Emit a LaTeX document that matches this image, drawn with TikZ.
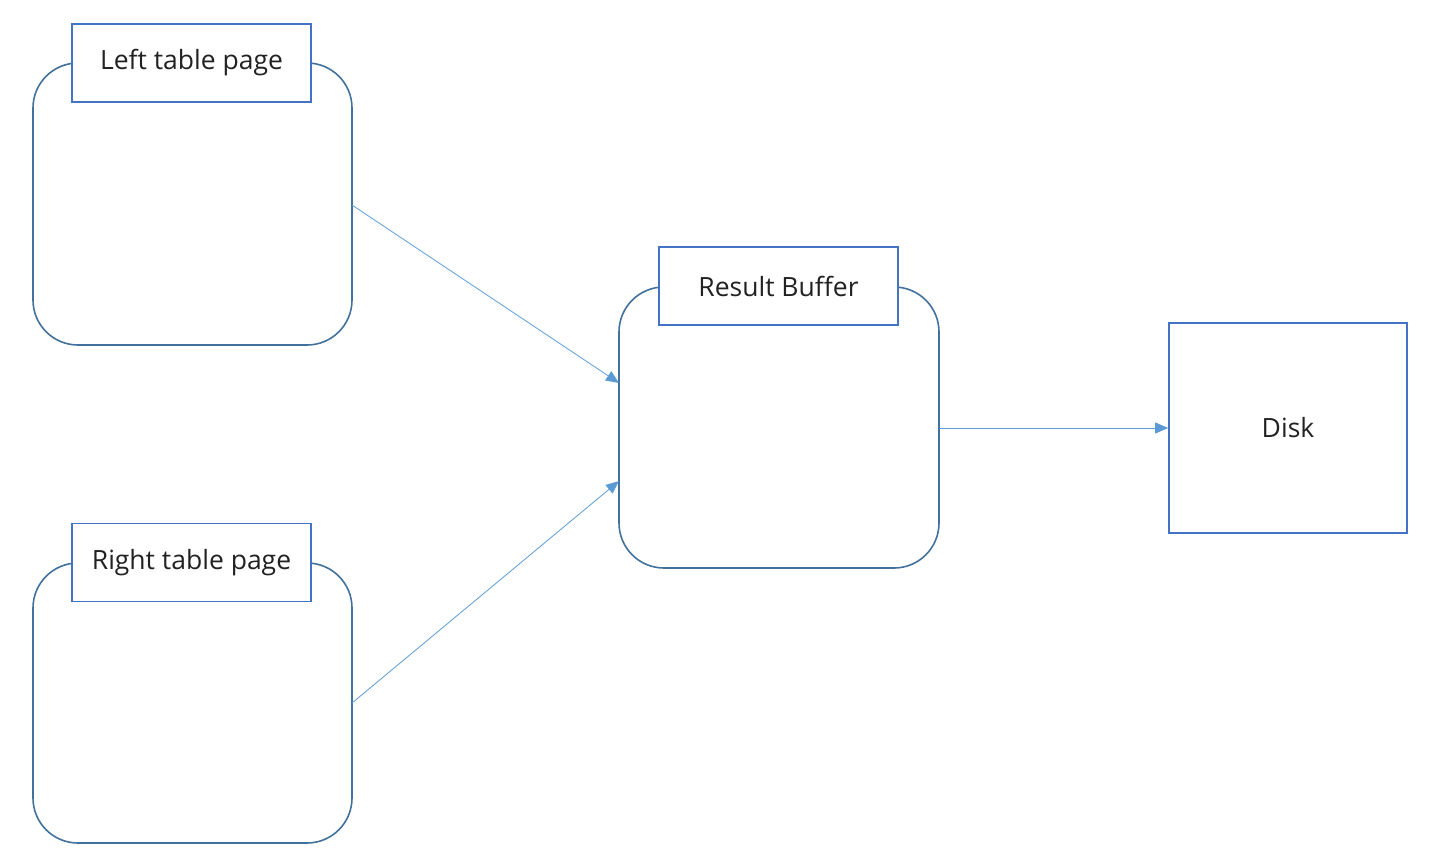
\documentclass[tikz,border=0pt]{standalone}
\usepackage{fontspec}
\setmainfont{Open Sans}
\usetikzlibrary{arrows.meta}
\definecolor{boxline}{HTML}{41719C}
\definecolor{labline}{HTML}{4472C4}
\definecolor{arrline}{HTML}{5B9BD5}
\definecolor{txt}{HTML}{222222}
\tikzset{
  container/.style={draw=boxline, line width=1.6pt, rounded corners=45pt},
  labelbox/.style={draw=labline, line width=1.6pt, fill=white, minimum width=239pt, minimum height=78pt, inner sep=0pt, font=\fontsize{26.5}{30}\selectfont, text=txt},
  diskbox/.style={draw=labline, line width=1.6pt, minimum width=238pt, minimum height=210pt, inner sep=0pt, font=\fontsize{26.5}{30}\selectfont, text=txt},
  conn/.style={draw=arrline, line width=0.8pt, -{Triangle[length=13pt,width=11pt]}}
}
\begin{document}
\begin{tikzpicture}[x=1pt,y=-1pt]
\useasboundingbox (0,0) rectangle (1453,855);
% containers
\draw[container] (33,63) rectangle (352,345);
\coordinate (lr) at (352,205);
\draw[container] (33,563) rectangle (352,843);
\coordinate (rr) at (352,703);
\draw[container] (619,287) rectangle (939,568);
\coordinate (bin1) at (619,383);
\coordinate (bin2) at (619,481);
\coordinate (bout) at (939,428);
% labels
\node[labelbox] (lt) at (191.5,63) {Left table page};
\node[labelbox] (rt) at (191.5,562.5) {Right table page};
\node[labelbox] (rb) at (778.5,286) {Result Buffer};
\node[diskbox] (disk) at (1288,428) {Disk};
% connectors
\draw[conn] (lr) -- (bin1);
\draw[conn] (rr) -- (bin2);
\draw[conn] (bout) -- (disk.west);
\end{tikzpicture}
\end{document}
